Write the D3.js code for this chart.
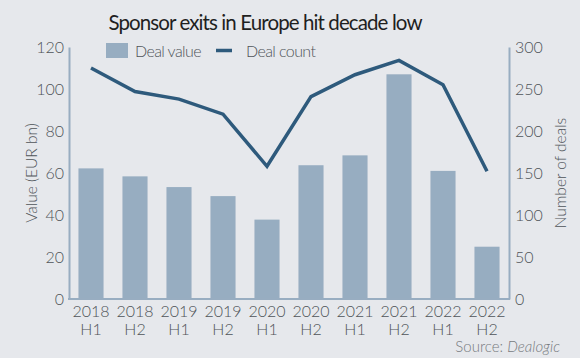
<!DOCTYPE html>
<html><head><meta charset="utf-8">
<script src="https://cdn.jsdelivr.net/npm/d3@7/dist/d3.min.js"></script>
<style>
html,body{margin:0;padding:0;background:#e6e8ec;}
svg{display:block;font-family:Lato,"Open Sans",sans-serif;font-weight:300;}
</style></head>
<body>
<svg id="chart" width="580" height="358"></svg>
<script>
const years = ["2018","2018","2019","2019","2020","2020","2021","2021","2022","2022"];
const halves = ["H1","H2","H1","H2","H1","H2","H1","H2","H1","H2"];
const dealValue = [62.2, 58.4, 53.3, 49, 37.8, 63.7, 68.4, 107, 61, 24.9];
const dealCount = [275, 247, 238, 220, 158, 241, 267, 284, 255, 152];
const leftTicks = [0,20,40,60,80,100,120];
const rightTicks = [0,50,100,150,200,250,300];

const svg = d3.select("#chart");
const W = 580, H = 358;
const m = {left:69, right:509, top:47, bottom:299};
const cats = d3.range(years.length);
const x = d3.scaleBand().domain(cats).range([m.left, m.right]).paddingInner(0.43).paddingOuter(0.215);
const yL = d3.scaleLinear().domain([0,120]).range([m.bottom, m.top]);
const yR = d3.scaleLinear().domain([0,300]).range([m.bottom, m.top]);

const axisCol = "#98adc1", barCol = "#97adc1", lineCol = "#2e5a7c", txt = "#4f5459";

svg.append("rect").attr("width",W).attr("height",H).attr("fill","#e6e8ec");

svg.append("text").attr("x",265).attr("y",30).attr("text-anchor","middle")
  .attr("font-size",20.5).attr("font-weight",400).attr("letter-spacing",-0.9).attr("fill","#1f1f1f")
  .text("Sponsor exits in Europe hit decade low");

// bars
svg.append("g").selectAll("rect").data(dealValue).join("rect")
  .attr("x",(d,i)=>x(i)).attr("width",x.bandwidth())
  .attr("y",d=>yL(d)).attr("height",d=>yL(0)-yL(d)).attr("fill",barCol);

// axes
const gL = svg.append("g").attr("transform",`translate(${m.left},0)`)
  .call(d3.axisLeft(yL).tickValues(leftTicks).tickSize(0).tickPadding(5));
const gR = svg.append("g").attr("transform",`translate(${m.right},0)`)
  .call(d3.axisRight(yR).tickValues(rightTicks).tickSize(0).tickPadding(6));
[gL,gR].forEach(g=>{
  g.select(".domain").attr("stroke",axisCol).attr("stroke-width",2);
  g.selectAll("text").attr("font-size",16).attr("fill",txt).attr("font-family","Lato").attr("font-weight",300);
});
svg.append("line").attr("x1",m.left-1).attr("x2",m.right+1).attr("y1",m.bottom).attr("y2",m.bottom)
  .attr("stroke",axisCol).attr("stroke-width",2);

// x labels
const gx = svg.append("g");
cats.forEach(i=>{
  const cx = x(i)+x.bandwidth()/2;
  const t = gx.append("text").attr("x",cx).attr("text-anchor","middle").attr("font-size",16).attr("fill",txt);
  t.append("tspan").attr("x",cx).attr("y",317).text(years[i]);
  t.append("tspan").attr("x",cx).attr("y",335).text(halves[i]);
});

// line
const line = d3.line().x((d,i)=>x(i)+x.bandwidth()/2).y(d=>yR(d));
svg.append("path").datum(dealCount).attr("d",line).attr("fill","none")
  .attr("stroke",lineCol).attr("stroke-width",3.5).attr("stroke-linejoin","miter");

// axis titles
svg.append("text").attr("transform","translate(37,173) rotate(-90)").attr("text-anchor","middle")
  .attr("font-size",15.5).attr("fill",txt).text("Value (EUR bn)");
svg.append("text").attr("transform","translate(566,173) rotate(-90)").attr("text-anchor","middle")
  .attr("font-size",15.5).attr("fill",txt).text("Number of deals");

// legend
const lg = svg.append("g");
lg.append("rect").attr("x",106).attr("y",43).attr("width",22).attr("height",15).attr("fill",barCol);
lg.append("text").attr("x",135).attr("y",57).attr("font-size",16).attr("fill",txt).attr("letter-spacing",-0.6).text("Deal value");
lg.append("line").attr("x1",216).attr("x2",232).attr("y1",50.5).attr("y2",50.5).attr("stroke",lineCol).attr("stroke-width",3.5);
lg.append("text").attr("x",246).attr("y",57).attr("font-size",16).attr("fill",txt).attr("letter-spacing",-0.6).text("Deal count");

// source
const s = svg.append("text").attr("x",560).attr("y",352).attr("text-anchor","end").attr("font-size",15).attr("fill","#777b80");
s.append("tspan").text("Source:  ");
s.append("tspan").attr("font-style","italic").text("Dealogic");
</script>
</body></html>
